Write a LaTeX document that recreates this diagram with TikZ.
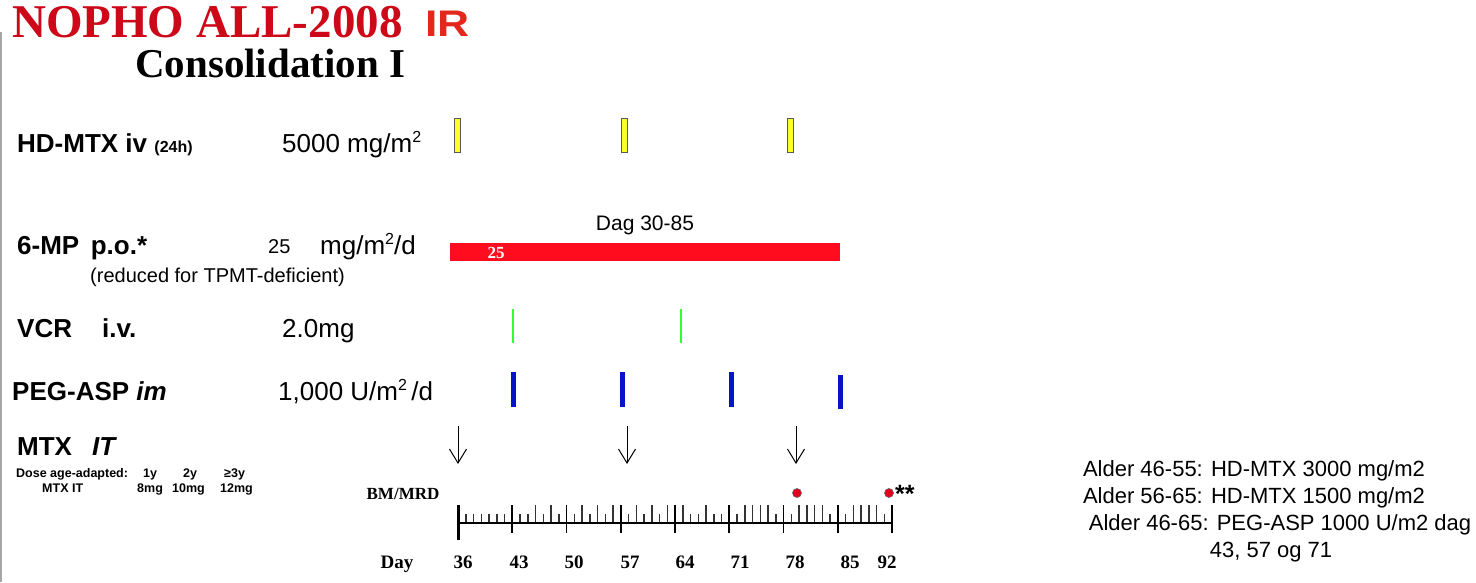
\documentclass[tikz,border=0pt]{standalone}
\usepackage{fontspec}
\setmainfont{Liberation Serif}
\setsansfont{Liberation Sans}
\usetikzlibrary{arrows.meta}
\newcommand{\fs}[1]{\fontsize{#1}{#1}\selectfont}
\newcommand{\sqr}{\raisebox{0.36em}{\fs{16}2}}
\definecolor{titlered}{RGB}{205,8,24}
\definecolor{irred}{RGB}{226,40,28}
\definecolor{barred}{RGB}{255,12,30}
\definecolor{mtxyellow}{RGB}{255,255,40}
\definecolor{vcrgreen}{RGB}{50,255,50}
\definecolor{aspblue}{RGB}{5,20,200}
\definecolor{dotred}{RGB}{225,0,30}
\begin{document}
\begin{tikzpicture}[x=1pt,y=-1pt,
  lab/.style={anchor=base west, inner sep=0, font=\sffamily\bfseries\fs{26}},
  val/.style={anchor=base west, inner sep=0, font=\sffamily\fs{26}},
  small/.style={anchor=base west, inner sep=0, font=\sffamily\bfseries\fs{12.5}},
  note/.style={anchor=base, inner sep=0, font=\sffamily\fs{22}},
  daylab/.style={anchor=base, inner sep=0, font=\rmfamily\bfseries\fs{19}},
  mtxbox/.style={draw=black!65, fill=mtxyellow, line width=1pt},
  vcrline/.style={draw=vcrgreen, line width=2pt},
  aspbar/.style={draw=aspblue, line width=5pt},
  itarrow/.style={-{Straight Barb[length=14pt,width=17pt]}, line width=1pt},
  mrddot/.style={circle, fill=dotred, draw=black!60, line width=0.6pt, minimum size=9pt, inner sep=0},
  minortick/.style={line width=1.5pt, black!80}
]
\useasboundingbox (0,0) rectangle (1476,582);
\fill[white] (0,0) rectangle (1476,582);
\draw[black!35, line width=1.5pt] (1,32) -- (1,582);

% titles
\node[anchor=base west, inner sep=0, font=\rmfamily\bfseries\fs{47}, text=titlered] (title) at (12,37) {NOPHO ALL-2008};
\node[anchor=base west, inner sep=0, font=\sffamily\bfseries\fs{37}, text=irred, xscale=1.2] (ir) at (425,36) {IR};
\node[anchor=base west, inner sep=0, font=\rmfamily\bfseries\fs{41}] (cons) at (135,77) {Consolidation I};

% left labels
\node[lab] (hdmtx) at (17,152) {HD-MTX iv {\fs{16}(24h)}};
\node[val] (hdmtxdose) at (282,152) {5000 mg/m\sqr};
\node[lab] (mp) at (17,254) {6-MP\, p.o.*};
\node[val, font=\sffamily\fs{20}] (mpnum) at (268,253) {25};
\node[val] (mpdose) at (320,254) {mg/m\sqr/d};
\node[val, font=\sffamily\fs{20}] (mpnote) at (90,282) {(reduced for TPMT-deficient)};
\node[lab] (vcr) at (17,337) {VCR};
\node[lab] (vcriv) at (102,337) {i.v.};
\node[val] (vcrdose) at (282,337) {2.0mg};
\node[lab] (asp) at (12,400) {PEG-ASP \textit{im}};
\node[val] (aspdose) at (278,400) {1,000 U/m\sqr\,/d};
\node[lab] (mtx) at (17,455) {MTX};
\node[lab] (mtxit) at (92,455) {\textit{IT}};
\node[small] (dose) at (16,477) {Dose age-adapted:};
\node[small] (y1) at (143,477) {1y};
\node[small] (y2) at (183,477) {2y};
\node[small] (y3) at (224,477) {≥3y};
\node[small] (mtxit2) at (42,492) {MTX IT};
\node[small] (d1) at (137,492) {8mg};
\node[small] (d2) at (172,492) {10mg};
\node[small] (d3) at (220,492) {12mg};

% HD-MTX boxes
\foreach \i/\x in {1/457,2/624,3/790}{
  \node[mtxbox, minimum width=6pt, minimum height=34pt, inner sep=0] (box\i) at (\x,135) {};
}
% 6-MP bar
\fill[barred] (450,243) rectangle (840,261);
\node[inner sep=0, font=\rmfamily\bfseries\fs{17}, text=white] (bar25) at (496,253) {25};
\node[inner sep=0, font=\sffamily\fs{21}] (dag) at (645,225) {Dag 30-85};

% VCR
\foreach \x in {513,681}{ \draw[vcrline] (\x,309) -- (\x,343); }
% PEG-ASP
\foreach \x in {513,622,731}{ \draw[aspbar] (\x,372) -- (\x,407); }
\draw[aspbar] (840,375) -- (840,409);

% IT arrows
\foreach \i/\x in {1/458,2/627,3/796}{
  \coordinate (at\i) at (\x,426);
  \coordinate (ab\i) at (\x,464);
  \draw[itarrow] (at\i) -- (ab\i);
}

% timeline
\node[inner sep=0, font=\rmfamily\bfseries\fs{17}] (bm) at (403,494) {BM/MRD};
\node[mrddot] (dot1) at (797,493) {};
\node[mrddot] (dot2) at (889,493) {};
\node[anchor=west, inner sep=0, font=\sffamily\bfseries\fs{25}] (stars) at (895,494) {**};

\foreach \d in {37,...,91}{
  \pgfmathsetmacro\xx{458+(\d-36)*7.75}
  \draw[minortick] (\xx,514) -- (\xx,523);
}
\foreach \d in {46,48,52,54,56,59,61,63,65,68,73,74,75,76,80,81,82,83,87,88,89,90}{
  \pgfmathsetmacro\xx{458+(\d-36)*7.75}
  \draw[minortick] (\xx,505) -- (\xx,523);
}
\foreach \d in {43,50,57,64,71,78,85,92}{
  \pgfmathsetmacro\xx{458+(\d-36)*7.75}
  \draw[line width=1.6pt] (\xx,505) -- (\xx,533);
}
\draw[line width=3pt] (458,505) -- (458,540);
\draw[line width=2.8pt] (458,523) -- (892,523);

\node[daylab] (daylbl) at (397,568) {Day};
\foreach \l/\x in {36/463,43/519,50/574,57/630,64/685,71/740,78/795,85/850,92/887}{
  \node[daylab] (day\l) at (\x,568) {\l};
}

% right notes
\node[note] (n1) at (1254,476) {Alder 46-55: HD-MTX 3000 mg/m2};
\node[note] (n2) at (1254,503) {Alder 56-65: HD-MTX 1500 mg/m2};
\node[note] (n3) at (1280,530) {Alder 46-65: PEG-ASP 1000 U/m2 dag};
\node[note] (n4) at (1271,557) {43, 57 og 71};
\end{tikzpicture}
\end{document}
